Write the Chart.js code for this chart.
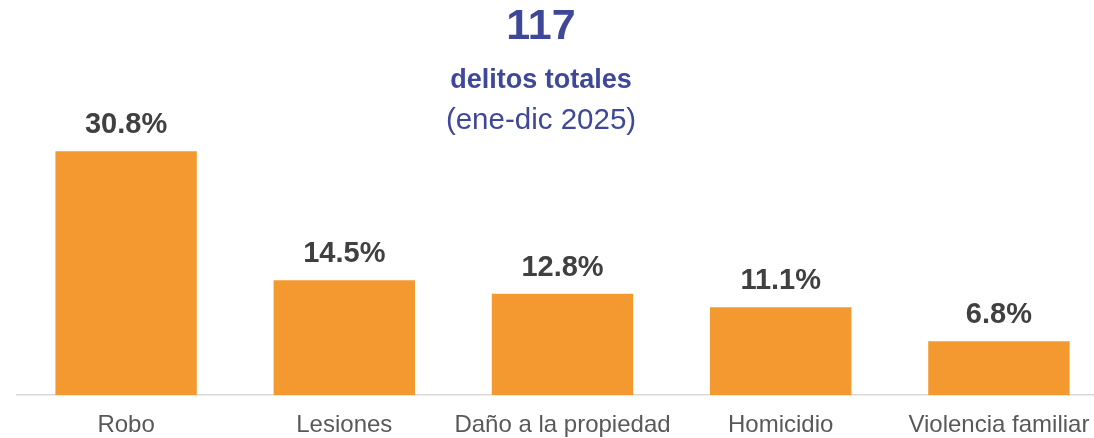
<!DOCTYPE html>
<html lang="es">
<head>
    <meta charset="UTF-8">
    <title>Delitos totales 2025</title>
    <script src="https://cdn.jsdelivr.net/npm/chart.js"></script>
    <style>
        html, body { margin: 0; padding: 0; background: #fff; }
        #wrap { width: 1094px; height: 438px; overflow: hidden; }
    </style>
</head>
<body>
    <div id="wrap">
        <canvas id="myChart" width="1111" height="456"></canvas>
    </div>
    <script>
        const categories = ['Robo', 'Lesiones', 'Daño a la propiedad', 'Homicidio', 'Violencia familiar'];
        const shares = [30.8, 14.5, 12.8, 11.1, 6.8];
        const totalCrimes = 117;
        const titleLines = ['delitos totales', '(ene-dic 2025)'];

        const navy = '#3f4898';
        const font = '"Liberation Sans", Arial, sans-serif';

        // header text block above the bars
        const headerPlugin = {
            id: 'header',
            afterDraw(chart) {
                const ctx = chart.ctx;
                const cx = 541;
                ctx.save();
                ctx.fillStyle = navy;
                ctx.textAlign = 'center';
                ctx.textBaseline = 'alphabetic';
                ctx.font = 'bold 43px ' + font;
                ctx.fillText(String(totalCrimes), cx, 38.5);
                ctx.font = 'bold 27px ' + font;
                ctx.fillText(titleLines[0], cx, 88);
                ctx.font = '29.5px ' + font;
                ctx.fillText(titleLines[1], cx, 129);
                ctx.restore();
            }
        };

        // percentage over each bar
        const valueLabels = {
            id: 'valueLabels',
            afterDatasetsDraw(chart) {
                const ctx = chart.ctx;
                const meta = chart.getDatasetMeta(0);
                ctx.save();
                ctx.fillStyle = '#404040';
                ctx.font = 'bold 29px ' + font;
                ctx.textAlign = 'center';
                ctx.textBaseline = 'alphabetic';
                meta.data.forEach((bar, i) => {
                    ctx.fillText(shares[i].toFixed(1) + '%', bar.x, bar.y - 18);
                });
                ctx.restore();
            }
        };

        const ctx = document.getElementById('myChart').getContext('2d');
        const myChart = new Chart(ctx, {
            type: 'bar',
            data: {
                labels: categories,
                datasets: [{
                    data: shares,
                    backgroundColor: '#f4992f',
                    borderWidth: 0,
                    categoryPercentage: 1,
                    barPercentage: 0.648
                }]
            },
            plugins: [headerPlugin, valueLabels],
            options: {
                responsive: false,
                animation: false,
                layout: { padding: { left: 17, right: 3, top: 110, bottom: 0 } },
                plugins: {
                    legend: { display: false },
                    tooltip: { enabled: false }
                },
                scales: {
                    x: {
                        grid: { display: false, drawTicks: false },
                        border: { display: true, color: '#d9d9d9', width: 1.5 },
                        ticks: {
                            color: '#595959',
                            padding: 16,
                            autoSkip: false,
                            minRotation: 0,
                            maxRotation: 0,
                            font: { family: font, size: 24 }
                        }
                    },
                    y: {
                        display: false,
                        min: 0,
                        max: 36
                    }
                }
            }
        });
    </script>
</body>
</html>
